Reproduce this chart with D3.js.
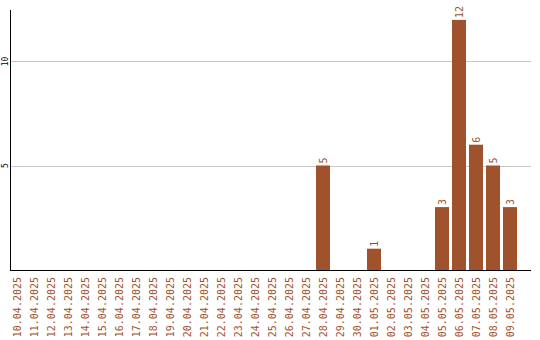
<!DOCTYPE html>
<html>
<head>
<meta charset="utf-8">
<script src="https://cdn.jsdelivr.net/npm/d3@7"></script>
<style>
  html, body { margin: 0; padding: 0; background: #fff; }
  svg { display: block; }
  text { font-family: "DejaVu Sans Mono", "Liberation Mono", monospace; }
</style>
</head>
<body>
<svg id="chart" width="540" height="340"></svg>
<script>
// Daily counts, 10.04.2025 – 09.05.2025
const dates = [
  "10.04.2025", "11.04.2025", "12.04.2025", "13.04.2025", "14.04.2025",
  "15.04.2025", "16.04.2025", "17.04.2025", "18.04.2025", "19.04.2025",
  "20.04.2025", "21.04.2025", "22.04.2025", "23.04.2025", "24.04.2025",
  "25.04.2025", "26.04.2025", "27.04.2025", "28.04.2025", "29.04.2025",
  "30.04.2025", "01.05.2025", "02.05.2025", "03.05.2025", "04.05.2025",
  "05.05.2025", "06.05.2025", "07.05.2025", "08.05.2025", "09.05.2025"
];
const counts = [
  0, 0, 0, 0, 0,
  0, 0, 0, 0, 0,
  0, 0, 0, 0, 0,
  0, 0, 0, 5, 0,
  0, 1, 0, 0, 0,
  3, 12, 6, 5, 3
];
const yTicks = [5, 10];

const data = dates.map((d, i) => ({ date: d, value: counts[i] }));

const svg = d3.select("#chart");
const barColor = "#a0522d";

const x = d3.scaleBand()
  .domain(dates)
  .range([8.5, 518.5])
  .paddingInner(3 / 17)
  .paddingOuter(1.5 / 17);

const y = d3.scaleLinear()
  .domain([0, 12.5])
  .range([269.5, 9.5]);

// horizontal grid lines
svg.append("g")
  .selectAll("line")
  .data(yTicks)
  .join("line")
  .attr("x1", 10.5)
  .attr("x2", 531)
  .attr("y1", d => Math.round(y(d)) + 0.5)
  .attr("y2", d => Math.round(y(d)) + 0.5)
  .attr("stroke", "#c8c8c8")
  .attr("stroke-width", 1);

// y tick labels, rotated
svg.append("g")
  .selectAll("text")
  .data(yTicks)
  .join("text")
  .attr("transform", d => `translate(8,${y(d)}) rotate(-90)`)
  .attr("text-anchor", "middle")
  .attr("font-size", 8)
  .attr("fill", "#000")
  .text(d => d);

// bars
svg.append("g")
  .selectAll("rect")
  .data(data.filter(d => d.value > 0))
  .join("rect")
  .attr("x", d => x(d.date))
  .attr("width", x.bandwidth())
  .attr("y", d => y(d.value))
  .attr("height", d => y(0) - y(d.value) + 0.5)
  .attr("fill", barColor);

// value labels above the bars
svg.append("g")
  .selectAll("text")
  .data(data.filter(d => d.value > 0))
  .join("text")
  .attr("transform", d => `translate(${x(d.date) + x.bandwidth() / 2 + 3.5},${y(d.value) - 2}) rotate(-90)`)
  .attr("text-anchor", "start")
  .attr("font-size", 10)
  .attr("fill", barColor)
  .text(d => d.value);

// axes lines
svg.append("line")
  .attr("x1", 10.5).attr("x2", 10.5)
  .attr("y1", 10).attr("y2", 270)
  .attr("stroke", "#000");
svg.append("line")
  .attr("x1", 10).attr("x2", 531)
  .attr("y1", 270.5).attr("y2", 270.5)
  .attr("stroke", "#000");

// date labels, rotated
svg.append("g")
  .selectAll("text")
  .data(dates)
  .join("text")
  .attr("transform", d => `translate(${x(d) + x.bandwidth() / 2 + 3.5},277) rotate(-90)`)
  .attr("text-anchor", "end")
  .attr("font-size", 10)
  .attr("fill", barColor)
  .text(d => d);
</script>
</body>
</html>
